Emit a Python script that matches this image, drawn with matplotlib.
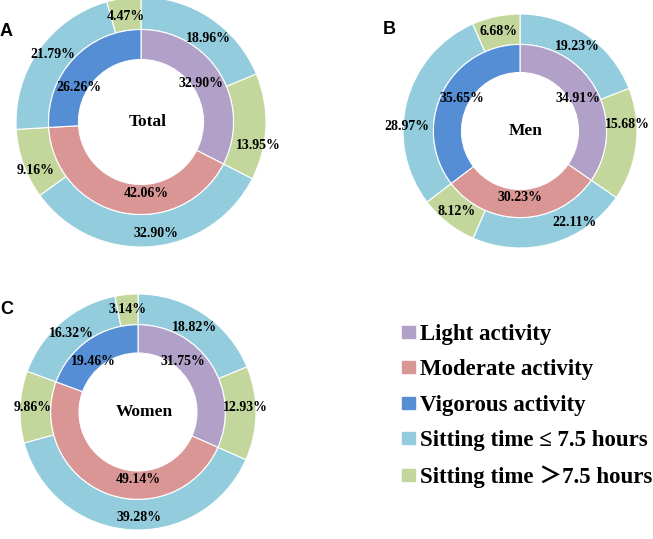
import numpy as np
import matplotlib
matplotlib.use("Agg")
import matplotlib.pyplot as plt
from matplotlib.patches import Patch

plt.rcParams['font.family'] = ['Liberation Serif', 'Noto Sans CJK SC', 'DejaVu Serif']

# inner ring: activity level, outer ring: sitting time within each level
activity_labels = ["Light activity", "Moderate activity", "Vigorous activity"]
sitting_labels = ["Sitting time \u2264 7.5 hours", "Sitting time \uff1e7.5 hours"]

total_inner = [32.90, 42.06, 26.26]
total_outer = [18.96, 13.95, 32.90, 9.16, 21.79, 4.47]
men_inner = [34.91, 30.23, 35.65]
men_outer = [19.23, 15.68, 22.11, 8.12, 28.97, 6.68]
women_inner = [31.75, 49.14, 19.46]
women_outer = [18.82, 12.93, 39.28, 9.86, 16.32, 3.14]

inner_colors = ["#B1A0C7", "#DA9694", "#558ED5"]
outer_colors = ["#93CDDD", "#C3D69B"] * 3

# label nudges (degrees clockwise from the wedge middle, radius for outer labels)
total_nudge = dict(outer=[5, 9, -3, -5, 2, 0], inner=[-1, -16, -14],
                   r=[0.86, 0.96, 0.9, 0.93, 0.89, 0.85])
men_nudge = dict(outer=[0, -10, -15, 0, -12, 0], inner=[-2, 1, 3],
                 r=[0.87, 0.92, 0.91, 0.88, 0.97, 0.87])
women_nudge = dict(outer=[0, -3, -5, 0, 0, 0], inner=[-15, -22, -7],
                   r=[0.86, 0.91, 0.89, 0.89, 0.87, 0.87])

W, H = 653, 539
fig = plt.figure(figsize=(W / 100, H / 100), dpi=100)


def put_labels(ax, vals, shifts, radii):
    tot = sum(vals)
    start = 0
    for v, s, r in zip(vals, shifts, radii):
        ang = np.radians(90 - ((start + v / 2) / tot * 360 + s))
        ax.text(r * np.cos(ang), r * np.sin(ang), f"{v:.2f}%", ha="center", va="center",
                fontsize=10, fontweight="bold", clip_on=False)
        start += v


def donut(cx, cy, R, inner, outer, nudge, title, letter, lx, ly):
    ax = fig.add_axes([(cx - R) / W, (H - cy - R) / H, 2 * R / W, 2 * R / H])
    wp = dict(edgecolor="white", linewidth=0.8)
    ax.pie(outer, radius=1.0, colors=outer_colors, startangle=90, counterclock=False,
           wedgeprops=dict(width=0.26, **wp))
    ax.pie(inner, radius=0.74, colors=inner_colors, startangle=90, counterclock=False,
           wedgeprops=dict(width=0.24, **wp))
    ax.set_xlim(-1, 1)
    ax.set_ylim(-1, 1)
    ax.set_aspect("equal")
    ax.axis("off")

    put_labels(ax, outer, nudge["outer"], nudge["r"])
    put_labels(ax, inner, nudge["inner"], [0.57] * 3)
    ax.text(0.05, 0, title, ha="center", va="center", fontsize=12.5, fontweight="bold")
    fig.text(lx / W, 1 - ly / H, letter, ha="left", va="center", fontsize=13,
             fontweight="bold", family="Liberation Sans")


donut(141, 122, 125, total_inner, total_outer, total_nudge, "Total", "A", 0, 31)
donut(520, 131, 117, men_inner, men_outer, men_nudge, "Men", "B", 383, 29)
donut(138, 412, 118, women_inner, women_outer, women_nudge, "Women", "C", 0, 310)

handles = [Patch(color=c) for c in inner_colors + outer_colors[:2]]
fig.legend(handles, activity_labels + sitting_labels, loc="upper left",
           bbox_to_anchor=(402 / W, (H - 324) / H), frameon=False,
           prop=dict(size=16.5, weight="bold"), handlelength=0.55, handleheight=0.45,
           handletextpad=0.25, labelspacing=0.63, borderpad=0, borderaxespad=0)

fig.savefig("out.png", dpi=100)
